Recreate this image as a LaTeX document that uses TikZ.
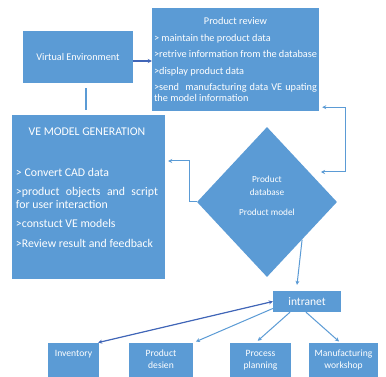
\documentclass[tikz,border=0pt]{standalone}
\usepackage{fontspec}
\setmainfont{Carlito}
\usetikzlibrary{shapes.geometric,arrows.meta,positioning}
\definecolor{boxblue}{HTML}{5B9BD5}
\definecolor{lineblue}{HTML}{5B9BD5}
\definecolor{darkline}{HTML}{4166B8}
\tikzset{
  box/.style={fill=boxblue, text=white, inner sep=0pt},
  txt/.style={text=white, inner sep=0pt},
  link/.style={draw=lineblue, line width=1pt, -{Stealth[length=4pt,width=4pt]}},
  darklink/.style={draw=darkline, line width=1.2pt, -{Stealth[length=4pt,width=4pt]}},
}

\begin{document}
\begin{tikzpicture}[x=1pt,y=-1pt]
  \useasboundingbox (0,0) rectangle (386,377);
  \clip (0,0) rectangle (386,377);
  \fill[white] (0,0) rectangle (386,377);

  \node (ve) [box, minimum width=110pt, minimum height=52pt, font=\fontsize{10.2}{12}\selectfont] at (78,57) {Virtual Environment};
  \node (review) [box, minimum width=167pt, minimum height=103pt, text width=163pt, align=justify,
    font={\fontsize{10.3}{11}\selectfont\parindent=0pt\parskip=5.5pt\hyphenpenalty=10000}] at (235.5,59.5)
    {{\centering Product review\par}
     > maintain the product data\par
     >retrive information from the database\par
     >display product data\par
     >send\ \ manufacturing data VE upating the model information};

  \node (gen) [box, minimum width=153pt, minimum height=164pt] at (88.5,197) {};
  \node (gentext) [txt, anchor=north, text width=142pt, align=justify,
    font={\fontsize{11.8}{12.5}\selectfont\parindent=0pt\parskip=7pt\hyphenpenalty=10000}] at ([xshift=-1.5pt,yshift=-13pt]gen.north)
    {{\centering VE MODEL GENERATION\par}
     \vspace{21pt}
     > Convert CAD data\par
     >product objects and script for user interaction\par
     >constuct VE models\par
     >Review result and feedback};

  \node (db) [box, diamond, minimum width=140pt, minimum height=150pt] at (267,202) {};
  \node (dbtext) [txt, align=center, font=\fontsize{9.3}{13}\selectfont] at ([yshift=6pt]db.center)
    {Product\\database\\[7pt]Product model};

  \node (intra) [box, minimum width=68pt, minimum height=21pt, font=\fontsize{11.5}{12}\selectfont] at (307,301.5) {intranet};

  \node (inv) [box, minimum width=51pt, minimum height=42pt] at (73.5,364) {};
  \node (des) [box, minimum width=64pt, minimum height=42pt] at (161,364) {};
  \node (proc) [box, minimum width=61pt, minimum height=42pt] at (260.5,364) {};
  \node (man) [box, minimum width=69pt, minimum height=42pt] at (343.5,364) {};
  \node (invtext) [txt, anchor=north, align=center, font=\fontsize{9.6}{12}\selectfont] at ([yshift=-7pt]inv.north) {Inventory};
  \node (destext) [txt, anchor=north, align=center, font=\fontsize{9.6}{12}\selectfont] at ([yshift=-7pt]des.north) {Product\\desien};
  \node (proctext) [txt, anchor=north, align=center, font=\fontsize{9.6}{12}\selectfont] at ([yshift=-7pt]proc.north) {Process\\planning};
  \node (mantext) [txt, anchor=north, align=center, font=\fontsize{9.6}{12}\selectfont] at ([yshift=-7pt]man.north) {Manufacturing\\workshop};

  \coordinate (dbin) at (321,172);

  \draw[darklink, line width=1.8pt, preaction={draw=white, line width=3.6pt, -}] ([yshift=-4pt]ve.east) -- ([yshift=-4pt]ve.east -| review.west);
  \draw[link, -, line width=2pt, shorten <=5pt, shorten >=5pt] ([xshift=8pt]ve.south) -- ([xshift=8pt]ve.south |- gen.north);
  \draw[link, {Stealth[length=4pt,width=4pt]}-{Stealth[length=4pt,width=4pt]}] ([xshift=3pt,yshift=4pt]review.south east) -- ++(23,0) |- (dbin);
  \draw[link] (db.west) -- ++(-7,0) |- ([xshift=3pt,yshift=36pt]gen.east);
  \draw[link] (db.south east) -- ([xshift=-10pt,yshift=6pt]intra.north);
  \draw[darklink, {Stealth[length=4pt,width=4pt]}-{Stealth[length=4pt,width=4pt]}, shorten >=1pt] (intra.west) -- ([xshift=-2pt]inv.north east);
  \draw[link, shorten >=3pt] ([yshift=-7pt]intra.west) -- (des.north east);
  \draw[link, shorten >=3pt] ([xshift=-17pt]intra.south) -- ([xshift=-5pt]proc.north);
  \draw[link, shorten >=2pt] ([xshift=-1pt]intra.south) -- ([xshift=-3pt]man.north);
\end{tikzpicture}
\end{document}
